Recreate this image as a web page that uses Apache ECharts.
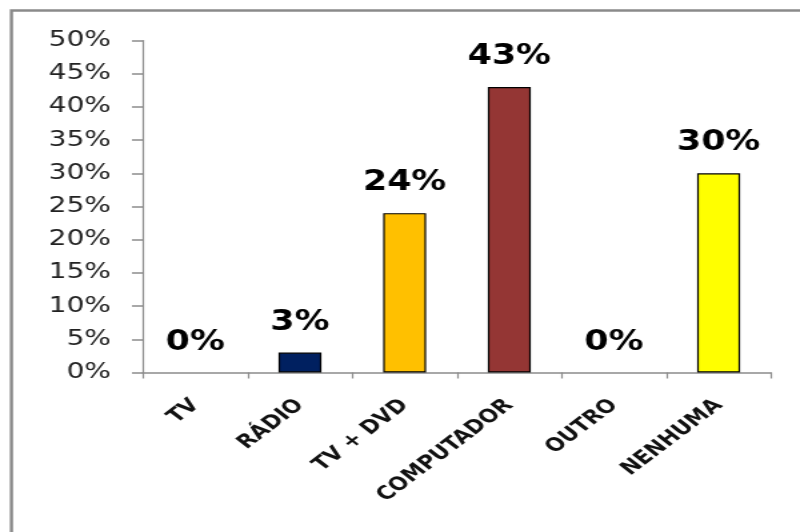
<!DOCTYPE html>
<html><head><meta charset="utf-8">
<script src="https://cdn.jsdelivr.net/npm/echarts@6/dist/echarts.min.js"></script>
<style>
html,body{margin:0;padding:0;background:#fff;overflow:hidden}
#c{width:600px;height:532px;transform:scaleX(1.33333);transform-origin:0 0}
</style>
</head><body><div id="c"></div>
<script>
var categories = ['TV', 'RÁDIO', 'TV + DVD', 'COMPUTADOR', 'OUTRO', 'NENHUMA'];
var values = [0, 3, 24, 43, 0, 30];
var barColors = ['#1F3864', '#002060', '#FFC000', '#943634', '#7F7F7F', '#FFFF00'];
var yTickMax = 50;
var yTickStep = 5;

var chart = echarts.init(document.getElementById('c'), null, {renderer: 'canvas'});
chart.setOption({
  animation: false,
  backgroundColor: '#fff',
  graphic: [{
    type: 'rect', shape: {x: 8.6, y: 10.5, width: 620, height: 540},
    style: {fill: 'none', stroke: '#8a8a8a', lineWidth: 2.4}, silent: true, z: -1
  }],
  grid: {left: 107.25, right: 21.75, top: 40.5, bottom: 159.5, containLabel: false},
  xAxis: {
    type: 'category', data: categories,
    axisLine: {lineStyle: {color: '#8c8c8c', width: 1.5}},
    axisTick: {show: true, length: 6, lineStyle: {color: '#8c8c8c', width: 1.2}},
    axisLabel: {rotate: 45, margin: 30, interval: 0, fontFamily: '"DejaVu Sans Condensed", "DejaVu Sans"', fontWeight: 'bold', fontSize: 19, color: '#111'}
  },
  yAxis: {
    type: 'value', min: 0, max: yTickMax, interval: yTickStep,
    axisLine: {show: true, lineStyle: {color: '#8c8c8c', width: 1.2}},
    axisTick: {show: true, inside: false, length: 8.25, lineStyle: {color: '#8c8c8c', width: 1.5}},
    splitLine: {show: false},
    axisLabel: {formatter: '{value}%', margin: 24, fontFamily: 'DejaVu Sans', fontSize: 21, color: '#222'}
  },
  series: [{
    type: 'bar', barWidth: '41%',
    data: values.map(function (v, i) {
      return {value: v, itemStyle: {color: barColors[i], borderColor: '#000', borderWidth: v > 0 ? 1.2 : 0}};
    }),
    label: {
      show: true, position: 'top', distance: 16,
      formatter: '{c}%', fontFamily: '"DejaVu Sans Condensed", "DejaVu Sans"', fontWeight: 'bold', fontSize: 29, color: '#000'
    }
  }]
});
</script></body></html>
